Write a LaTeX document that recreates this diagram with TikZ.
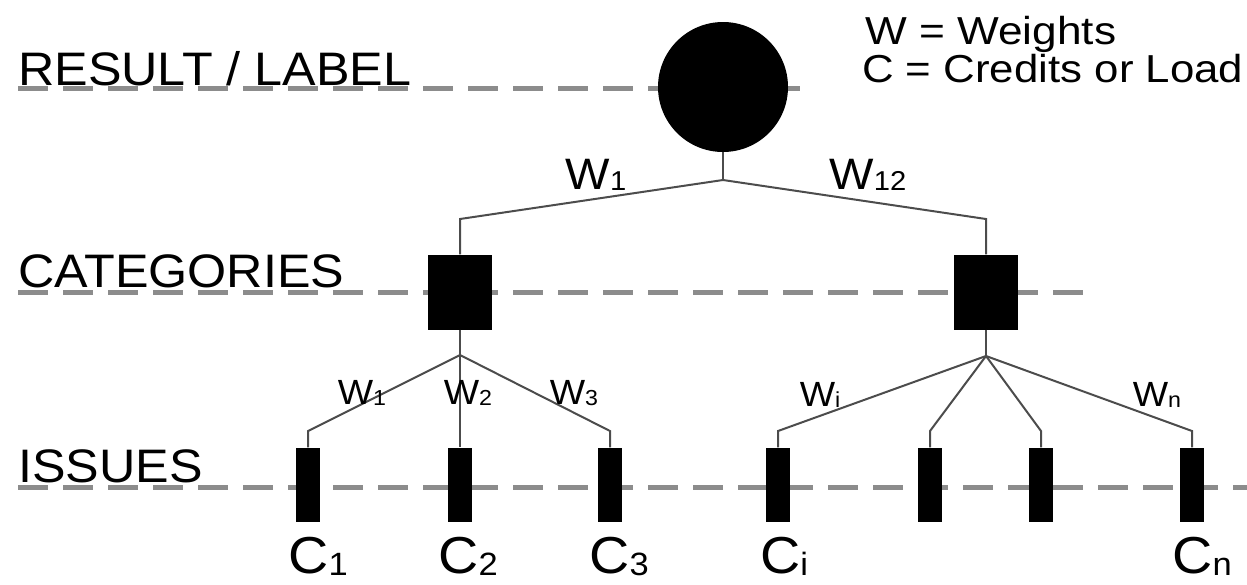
\documentclass[tikz,border=0pt]{standalone}
\usepackage{fontspec}
\setmainfont[FakeStretch=1.07]{Liberation Sans}
\usepackage{graphicx}
\newcommand\lowsub[1]{\raisebox{-0.04em}{\scalebox{0.62}{#1}}}
\newcommand\fs[1]{\fontsize{#1}{#1}\selectfont}
\begin{document}
\begin{tikzpicture}[x=1pt,y=-1pt,
  level/.style={draw=black!45,line width=5pt,dash pattern=on 30pt off 15pt},
  link/.style={draw=black!70,line width=2pt},
  rootnode/.style={circle,fill=black,minimum size=130pt,inner sep=0pt},
  catnode/.style={rectangle,fill=black,minimum width=64pt,minimum height=75pt,inner sep=0pt},
  issuenode/.style={rectangle,fill=black,minimum width=24pt,minimum height=74pt,inner sep=0pt},
  rowtitle/.style={anchor=base west,inner sep=0pt,font=\fs{47}},
  wlabel/.style={inner sep=0pt,anchor=base,font=\fs{35}},
  toplabel/.style={inner sep=0pt,anchor=base,font=\fs{44}},
  clabel/.style={inner sep=0pt,anchor=base,font=\fs{52}},
  legend/.style={inner sep=0pt,anchor=base west,font=\fs{39}}]
\useasboundingbox (0,0) rectangle (1247,584);

% level guide lines
\coordinate (r0) at (18,88);   \coordinate (r1) at (800,88);
\coordinate (c0) at (18,292);  \coordinate (c1) at (1085,292);
\coordinate (i0) at (18,487);  \coordinate (i1) at (1247,487);
\draw[level] (r0) -- (r1);
\draw[level] (c0) -- (c1);
\draw[level] (i0) -- (i1);

% row titles
\node[rowtitle] (tres) at (18,85) {RESULT / LABEL};
\node[rowtitle] (tcat) at (18,287) {CATEGORIES};
\node[rowtitle] (tiss) at (18,482) {ISSUES};

% legend
\node[legend] (lw) at (865,44) {\scalebox{1.06}[1]{W = Weights}};
\node[legend] (lc) at (862,82) {\scalebox{1.05}[1]{C = Credits or Load}};

% nodes
\node[rootnode] (root) at (723,87) {};
\node[catnode] (catL) at (460,292) {};
\node[catnode] (catR) at (986,292) {};
\foreach \n/\x in {1/308,2/460,3/610,4/778,5/930,6/1041,7/1192}
  \node[issuenode] (is\n) at (\x,484.5) {};

% junctions and bends
\coordinate (jtop) at (723,180);
\coordinate (bL) at (460,219);
\coordinate (bR) at (986,219);
\coordinate (jL) at (460,355);
\coordinate (jR) at (986,356);
\foreach \n/\x in {1/308,3/610,4/778,5/930,6/1041,7/1192}
  \coordinate (k\n) at (\x,431);

% connectors
\draw[link] (root.south) -- (jtop);
\draw[link] (jtop) -- (bL) -- (catL.north);
\draw[link] (jtop) -- (bR) -- (catR.north);
\draw[link] (catL.south) -- (jL);
\draw[link] (catR.south) -- (jR);
\draw[link] (jL) -- (k1) -- (is1.north);
\draw[link] (jL) -- (is2.north);
\draw[link] (jL) -- (k3) -- (is3.north);
\foreach \n in {4,5,6,7}
  \draw[link] (jR) -- (k\n) -- (is\n.north);

% weight labels
\node[toplabel] (w1) at (596,189) {W\lowsub{1}};
\node[toplabel] (w12) at (868,189) {W\lowsub{12}};
\node[wlabel] (wa) at (362,404) {W\lowsub{1}};
\node[wlabel] (wb) at (468,404) {W\lowsub{2}};
\node[wlabel] (wc) at (574,404) {W\lowsub{3}};
\node[wlabel] (wi) at (820,406) {W\lowsub{i}};
\node[wlabel] (wn) at (1157,406) {W\lowsub{n}};

% credit labels
\node[clabel] (c1) at (318,573) {C\lowsub{1}};
\node[clabel] (c2) at (468,573) {C\lowsub{2}};
\node[clabel] (c3) at (619,573) {C\lowsub{3}};
\node[clabel] (ci) at (784,573) {C\lowsub{i}};
\node[clabel] (cn) at (1202,573) {C\lowsub{n}};
\end{tikzpicture}
\end{document}
